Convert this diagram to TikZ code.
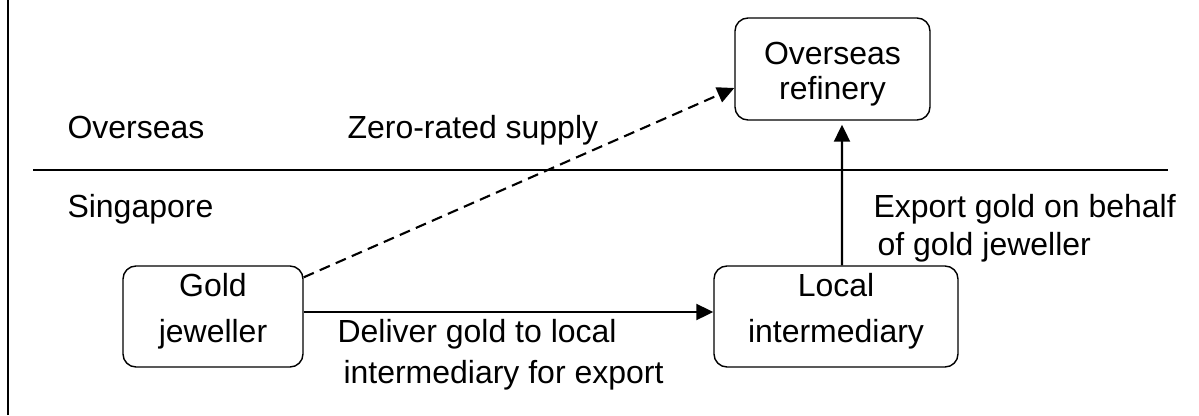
\documentclass[tikz,border=0pt]{standalone}
\usepackage{fontspec}
\setmainfont{Liberation Sans}
\usetikzlibrary{arrows.meta}

\begin{document}
\begin{tikzpicture}[semithick,>={Triangle[length=0.34cm,width=0.32cm]}]
    \tikzstyle{box}=[draw, rounded corners=0.26cm, line width=0.8pt, inner ysep=0.1cm, align=center, font=\fontsize{18.2}{26.2}\selectfont]
    \tikzstyle{txt}=[inner sep=0pt, anchor=base west, align=left, font=\fontsize{18.2}{22}\selectfont]
    \tikzstyle{flow}=[->, line width=1.2pt]
    \useasboundingbox (0,0) rectangle (23.98,8.30);

    % frame and border line
    \draw[line width=1.1pt] (0.16,0) -- (0.16,8.30);
    \draw[line width=1.1pt] (0.66,4.90) -- (23.36,4.90);

    \node[box, minimum width=3.6cm, minimum height=2.02cm, text depth=0.36cm]  (gold)  at (4.26,1.97)  {Gold\\jeweller};
    \node[box, minimum width=3.9cm, minimum height=2.04cm, text height=1.35cm,
          font=\fontsize{18.2}{19.9}\selectfont]                               (refinery) at (16.65,6.92) {Overseas\\refinery};
    \node[box, minimum width=4.88cm, minimum height=2.02cm, text depth=0.36cm] (local) at (16.72,1.97) {Local\\intermediary};

    \node[txt] (overseas)  at (1.34,5.54) {Overseas};
    \node[txt] (singapore) at (1.34,3.96) {Singapore};
    \node[txt] (zero)      at (6.94,5.54) {Zero-rated supply};
    \node[txt, font=\fontsize{18.2}{23.3}\selectfont] (deliver) at (6.74,0.64)
        {Deliver gold to local\\\hspace*{0.12cm}intermediary for export};
    \node[txt, font=\fontsize{18.2}{21.6}\selectfont] (export)  at (17.46,3.20)
        {Export gold on behalf\\\hspace*{0.08cm}of gold jeweller};

    \draw[flow] ([yshift=0.09cm]gold.east) -- ([yshift=0.09cm]local.west);
    \draw[flow, shorten >=0.08cm] ([xshift=0.12cm]local.north) -- ([xshift=0.19cm]refinery.south);
    \draw[flow, dash pattern=on 0.22cm off 0.13cm] ([yshift=-0.24cm]gold.north east) -- ([yshift=-0.38cm]refinery.west);
\end{tikzpicture}
\end{document}
